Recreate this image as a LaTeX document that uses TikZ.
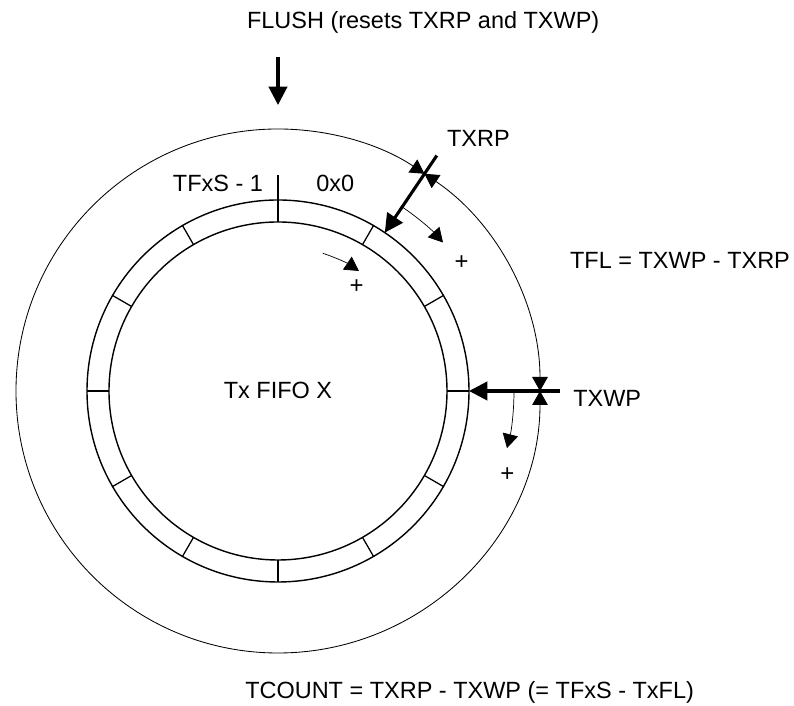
\documentclass[tikz,border=0pt]{standalone}
\usepackage{fontspec}
\setmainfont{Liberation Sans}
\usetikzlibrary{arrows.meta}
\begin{document}
\begin{tikzpicture}[font=\fontsize{16.7}{20}\selectfont, line join=round,
		>={Triangle[length=3.5mm,width=3.9mm]},
		big/.style={line width=2.2pt,-{Triangle[length=4.6mm,width=4.6mm]}},
		thin arc/.style={line width=0.5pt,->},
		plus/.style={font=\fontsize{17}{20}\selectfont,inner sep=0pt},
		txt/.style={inner sep=0pt,anchor=base}]
		\def\R{6.55} \def\Ro{4.775} \def\Ri{4.225}
		\useasboundingbox (-6.95,-7.875) rectangle (12.9,9.775);
		% FIFO ring
		\draw[line width=1pt] (0,0) circle (\Ro) (0,0) circle (\Ri);
		\foreach \a in {0,30,...,330} \draw[line width=0.9pt] (\a:\Ri)--(\a:\Ro);
		\draw[line width=0.9pt] (90:\Ro)--(90:5.4);
		\node[txt] (tfxs) at (-1.5,4.98) {TFxS - 1};
		\node[txt] (zero) at (1.43,4.98) {0x0};
		\node[txt] (fifo) at (0,-0.18) {Tx FIFO X};
		% pointers
		\coordinate (rp) at (56:\Ro); \coordinate (rpend) at (56:7.1);
		\coordinate (wp) at (0:\Ro); \coordinate (wpend) at (7.05,0);
		\draw[big] (rpend)--(rp);
		\draw[big] (wpend)--(wp);
		\node[txt,anchor=base west] (txrp) at (4.22,6.1) {TXRP};
		\node[txt,anchor=base west] (txwp) at (7.375,-0.4) {TXWP};
		% levels on outer circle
		\draw[line width=0.6pt,<->] (56:\R) arc (56:0:\R);
		\draw[line width=0.6pt,<->] (0:\R) arc (0:-304:\R);
		\node[txt] (tfl) at (10.05,3.05) {TFL = TXWP - TXRP};
		\node[txt] (tcount) at (4.79,-7.7) {TCOUNT = TXRP - TXWP (= TFxS - TxFL)};
		% increment direction
		\draw[thin arc] (56:5.55) arc (56:42:5.55);
		\draw[thin arc] (72:3.62) arc (72:56:3.62);
		\draw[thin arc] (0:5.9) arc (0:-14:5.9);
		\node[plus] (p1) at (35:5.6) {+};
		\node[plus] (p2) at (53:3.27) {+};
		\node[plus] (p3) at (-20:6.1) {+};
		% flush
		\node[txt] (flush) at (3.63,9.05) {FLUSH (resets TXRP and TXWP)};
		\coordinate (fl0) at (0,8.35); \coordinate (fl1) at (0,7.15);
		\draw[big] (fl0)--(fl1);
	\end{tikzpicture}
\end{document}
